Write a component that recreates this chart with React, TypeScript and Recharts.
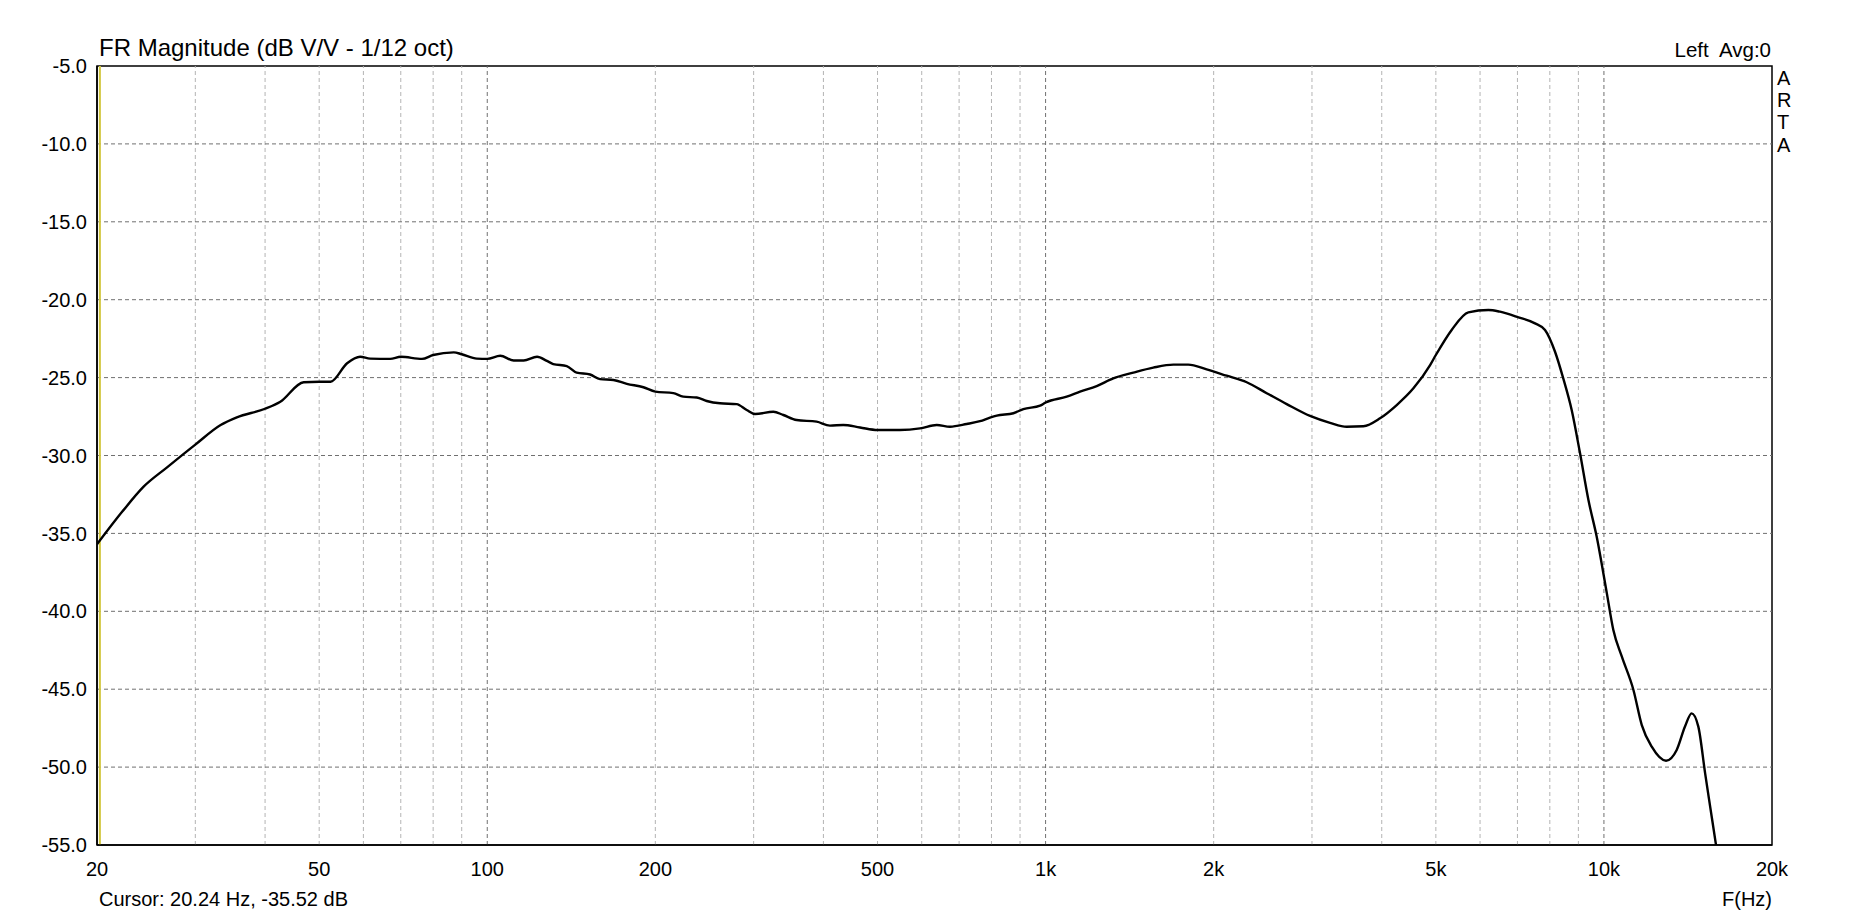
import React from 'react';
import { LineChart, Line, XAxis, YAxis, ReferenceLine, ReferenceArea } from 'recharts';

const freqs = [
  20, 22.2, 24.24, 26.7, 30, 33.3, 35.6, 40, 42.6, 46.9, 50, 52.4, 56.1, 59.2, 61.7, 67, 70, 76.4, 80, 87.1,
  90, 95.8, 100, 105.5, 111.5, 116.2, 122.8, 127.9, 131.3, 138.8, 144.6, 152.8, 159.2, 168.2, 177.8, 190.4,
  200, 215.4, 224.4, 237.3, 247.2, 261.1, 279.7, 291.5, 301.7, 325.4, 339.1, 358.2, 389, 411, 434.1, 465.2,
  500, 548.4, 595.7, 638.3, 674.2, 722.2, 763, 795, 817.6, 875.6, 912.4, 977.4, 1000, 1091, 1152.6, 1234.6,
  1322, 1436, 1559, 1694, 1801, 1943, 2110, 2292, 2489, 2703, 2976, 3232, 3461, 3708, 3972, 4255, 4558, 4883,
  5000, 5337, 5717, 6209, 6514, 7028, 7526, 7843, 8174, 8456, 8755, 9062, 9381, 9705, 10116, 10396, 10764,
  11294, 11690, 12180, 12920, 13500, 13970, 14360, 14760, 15180, 15500, 15860, 16200,
];

const magnitudes = [
  -35.7, -33.6, -32.0, -30.76, -29.3, -28.04, -27.55, -27.0, -26.55, -25.3, -25.27, -25.27, -24.08, -23.66, -23.78, -23.8, -23.66, -23.8, -23.55, -23.38,
  -23.5, -23.78, -23.8, -23.6, -23.9, -23.9, -23.66, -23.93, -24.13, -24.26, -24.68, -24.8, -25.1, -25.15, -25.4, -25.62,
  -25.9, -26.0, -26.22, -26.28, -26.5, -26.65, -26.7, -27.08, -27.34, -27.19, -27.4, -27.72, -27.83, -28.08, -28.04, -28.2,
  -28.36, -28.36, -28.26, -28.04, -28.15, -27.98, -27.8, -27.57, -27.44, -27.29, -27.02, -26.8, -26.6, -26.22, -25.9, -25.54,
  -25.05, -24.68, -24.36, -24.17, -24.17, -24.47, -24.88, -25.3, -26.0, -26.7, -27.46, -27.9, -28.15, -28.12, -27.61, -26.76, -25.69, -24.2,
  -23.55, -21.94, -20.81, -20.66, -20.77, -21.13, -21.52, -21.94, -23.34, -25.05, -27.08, -29.86, -32.86, -35.2, -38.8, -41.2, -42.9,
  -45.05, -47.3, -48.69, -49.59, -48.9, -47.4, -46.55, -47.4, -50.4, -52.55, -54.9, -57.2,
];

const xTicks = [20, 50, 100, 200, 500, 1000, 2000, 5000, 10000, 20000];
const xTickLabels = ['20', '50', '100', '200', '500', '1k', '2k', '5k', '10k', '20k'];
const yTicks = [-55, -50, -45, -40, -35, -30, -25, -20, -15, -10, -5];
const minorGrid = [30, 40, 50, 60, 70, 80, 90, 200, 300, 400, 500, 600, 700, 800, 900, 2000, 3000, 4000, 5000, 6000, 7000, 8000, 9000];
const majorGrid = [100, 1000, 10000];
const cursorFreq = 20.24;

const title = 'FR Magnitude (dB V/V - 1/12 oct)';
const channelLabel = 'Left  Avg:0';
const brandLetters = ['A', 'R', 'T', 'A'];
const cursorLabel = 'Cursor: 20.24 Hz, -35.52 dB';
const xAxisLabel = 'F(Hz)';

const data = freqs.map((f, i) => ({ f, db: magnitudes[i] }));

const FONT = '"Liberation Sans", Arial, sans-serif';

export default function App() {
  return (
    <div style={{ position: 'absolute', left: 0, top: 0, width: 1868, height: 917, background: '#fff' }}>
      <LineChart
        width={1868}
        height={917}
        data={data}
        margin={{ top: 66, right: 96, bottom: 42, left: 37 }}
      >
        <XAxis
          dataKey="f"
          type="number"
          scale="log"
          domain={[20, 20000]}
          allowDataOverflow
          ticks={xTicks}
          tickFormatter={(v: number) => xTickLabels[xTicks.indexOf(v)] ?? String(v)}
          height={30}
          tickSize={0}
          tickMargin={17}
          axisLine={{ stroke: '#000', strokeWidth: 1.5 }}
          tick={{ fill: '#000', fontSize: 20, fontFamily: FONT }}
          interval={0}
        />
        <YAxis
          type="number"
          domain={[-55, -5]}
          allowDataOverflow
          ticks={yTicks}
          tickFormatter={(v: number) => v.toFixed(1)}
          width={60}
          tickSize={0}
          tickMargin={10}
          axisLine={{ stroke: '#000', strokeWidth: 1.5 }}
          tick={{ fill: '#000', fontSize: 20, fontFamily: FONT }}
          interval={0}
        />
        {minorGrid.map((g) => (
          <ReferenceLine key={'mn' + g} x={g} stroke="#b4b4b4" strokeWidth={1} strokeDasharray="4 3" />
        ))}
        {majorGrid.map((g) => (
          <ReferenceLine key={'mj' + g} x={g} stroke="#707070" strokeWidth={1} strokeDasharray="4 3" />
        ))}
        {yTicks.slice(1, -1).map((g) => (
          <ReferenceLine key={'h' + g} y={g} stroke="#707070" strokeWidth={1} strokeDasharray="4 3" />
        ))}
        <ReferenceArea x1={20} x2={20000} y1={-55} y2={-5} fill="none" stroke="#000" strokeWidth={1.5} />
        <ReferenceLine x={cursorFreq} stroke="#d2c740" strokeWidth={2} />
        <Line
          type="monotone"
          dataKey="db"
          stroke="#000"
          strokeWidth={2.4}
          dot={false}
          isAnimationActive={false}
        />
      </LineChart>
      <svg
        width={1868}
        height={917}
        style={{ position: 'absolute', left: 0, top: 0, pointerEvents: 'none' }}
        fontFamily={FONT}
      >
        <text x={99} y={56} fontSize={24} fill="#000">{title}</text>
        <text x={1771} y={57} fontSize={20.5} fill="#000" textAnchor="end" style={{ whiteSpace: 'pre' }}>{channelLabel}</text>
        {brandLetters.map((c, i) => (
          <text key={i} x={1777} y={85 + i * 22.2} fontSize={20} fill="#000">{c}</text>
        ))}
        <text x={99} y={906} fontSize={20} fill="#000">{cursorLabel}</text>
        <text x={1772} y={906} fontSize={20} fill="#000" textAnchor="end">{xAxisLabel}</text>
      </svg>
    </div>
  );
}
